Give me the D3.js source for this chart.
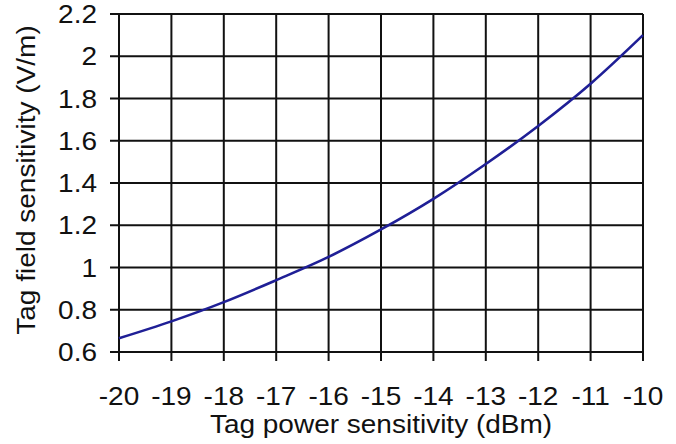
<!DOCTYPE html>
<html><head><meta charset="utf-8">
<script src="https://cdn.jsdelivr.net/npm/d3@7"></script>
<style>
html,body{margin:0;padding:0;background:#fff;}
text{font-family:"Liberation Sans",Arial,sans-serif;fill:#111;}
</style></head>
<body><svg id="c" width="676" height="444"></svg>
<script>
const powerDbm = [-20,-19,-18,-17,-16,-15,-14,-13,-12,-11,-10];
const fieldVm  = [0.665,0.745,0.836,0.94,1.05,1.18,1.325,1.49,1.67,1.87,2.1];
const xTicks = [-20,-19,-18,-17,-16,-15,-14,-13,-12,-11,-10];
const yTicks = [0.6,0.8,1,1.2,1.4,1.6,1.8,2,2.2];
const xTitle = "Tag power sensitivity (dBm)";
const yTitle = "Tag field sensitivity (V/m)";

const svg = d3.select("#c");
const L=119,R=643,T=14,B=352;
const x = d3.scaleLinear().domain([-20,-10]).range([L,R]);
const y = d3.scaleLinear().domain([0.6,2.2]).range([B,T]);
const fs = 25, sx = 1.12;

// grid
const g = svg.append("g");
g.selectAll("line.v").data(xTicks).join("line")
  .attr("x1",d=>x(d)).attr("x2",d=>x(d)).attr("y1",T).attr("y2",B+9)
  .attr("stroke","#111").attr("stroke-width",2);
g.selectAll("line.h").data(yTicks).join("line")
  .attr("x1",L-9).attr("x2",R).attr("y1",d=>y(d)).attr("y2",d=>y(d))
  .attr("stroke","#111").attr("stroke-width",2);

// tick labels
svg.append("g").selectAll("text").data(yTicks).join("text")
  .attr("transform",d=>`translate(97,${y(d)}) scale(${sx},1)`)
  .attr("text-anchor","end").attr("dy","0.36em")
  .style("font-size",fs+"px").text(d=>d3.format("~g")(d));
svg.append("g").selectAll("text").data(xTicks).join("text")
  .attr("transform",d=>`translate(${x(d)},405) scale(${sx},1)`)
  .attr("text-anchor","middle")
  .style("font-size",fs+"px").text(d=>d);

// titles
svg.append("text").attr("transform",`translate(${(L+R)/2},433) scale(${sx},1)`)
  .attr("text-anchor","middle").style("font-size",fs+"px").text(xTitle);
svg.append("text").attr("transform",`translate(35,180) rotate(-90) scale(${sx},1)`)
  .attr("text-anchor","middle").style("font-size",fs+"px").text(yTitle);

// curve
const line = d3.line().x((d,i)=>x(powerDbm[i])).y(d=>y(d)).curve(d3.curveMonotoneX);
svg.append("path").attr("d",line(fieldVm)).attr("fill","none")
  .attr("stroke","#1f1f96").attr("stroke-width",2.6);
</script></body></html>
